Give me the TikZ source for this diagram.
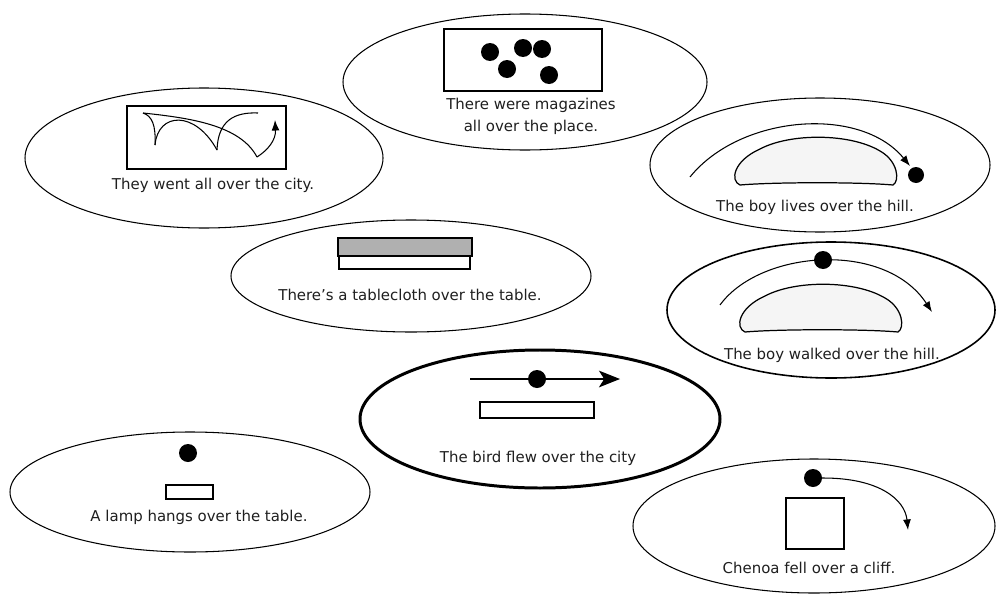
\documentclass[tikz,border=0pt]{standalone}
\usepackage{fontspec}
\setmainfont{DejaVu Sans}
\usetikzlibrary{arrows.meta}
\tikzset{
  oval/.style={draw=black,line width=0.6pt},
  lbl/.style={font=\fontsize{8.5pt}{12.5pt}\selectfont,text=black!88,inner sep=0pt,align=center},
  dotf/.style={fill=black},
  boxd/.style={draw=black,line width=0.7pt},
  curv/.style={draw=black,line width=0.6pt},
  sarrow/.style={-{Latex[length=6pt,width=4.5pt]}},
  hillshape/.pic={
    \draw[line width=0.7pt,fill=black!4] (-76,24) .. controls (-86,20) and (-83,0) .. (-56,-12)
      .. controls (-26,-28) and (34,-28) .. (64,-10)
      .. controls (82,0) and (84,20) .. (77,24)
      .. controls (44,21) and (-41,21) .. cycle;
  }
}
\begin{document}
\begin{tikzpicture}[x=0.02cm,y=-0.02cm]
\fill[white] (0,0) rectangle (997,595);
\useasboundingbox (0,0) rectangle (997,595);

% 1 magazines
\draw[oval] (525,82) ellipse [x radius=182, y radius=68];
\draw[boxd] (444,29) rectangle (602,91);
\foreach \p in {(490,52),(523,48),(542,49),(507,69),(549,75)}
  \fill[dotf] \p circle [radius=9];
\node[lbl] (tmag) at (531,116) {There were magazines\\all over the place.};

% 2 city
\draw[oval] (204,158) ellipse [x radius=179, y radius=70];
\draw[boxd] (127,106) rectangle (286,169);
\draw[curv] (143,113) .. controls (152,116) and (156,125) .. (155,145);
\draw[curv] (155,145) .. controls (158,112) and (195,110) .. (217,150);
\draw[curv] (217,150) .. controls (218,120) and (235,112) .. (258,113);
\draw[curv] (143,113) .. controls (190,118) and (240,125) .. (257,157);
\draw[curv,sarrow] (257,157) .. controls (268,150) and (276,140) .. (275,120);
\node[lbl] (tcity) at (213,185) {They went all over the city.};

% 3 boy lives
\draw[oval] (820,165) ellipse [x radius=170, y radius=67];
\pic at (816,161) {hillshape};
\draw[curv,sarrow] (690,177) .. controls (740,115) and (860,105) .. (910,166);
\fill[dotf] (916,175) circle [radius=8];
\node[lbl] (tlives) at (815,207) {The boy lives over the hill.};

% 4 tablecloth
\draw[oval] (411,276) ellipse [x radius=180, y radius=56];
\draw[boxd,fill=black!31] (338,238) rectangle (472,256);
\draw[boxd] (339,256) rectangle (470,269);
\node[lbl] (tcloth) at (410,295) {There's a tablecloth over the table.};

% 5 boy walked
\draw[draw=black,line width=0.9pt] (831,310) ellipse [x radius=164, y radius=68];
\pic at (821,308) {hillshape};
\draw[curv,sarrow] (720,305) .. controls (760,250) and (885,240) .. (932,312);
\fill[dotf] (823,260) circle [radius=9];
\node[lbl] (twalk) at (832,355) {The boy walked over the hill.};

% 6 bird
\draw[draw=black,line width=1.7pt] (540,419) ellipse [x radius=180, y radius=69];
\draw[line width=0.7pt,-{Stealth[length=12pt,width=9.5pt,inset=3pt]}] (470,379) -- (620,379);
\fill[dotf] (537,379) circle [radius=9];
\draw[boxd] (480,402) rectangle (594,418);
\node[lbl] (tbird) at (538,458) {The bird flew over the city};

% 7 lamp
\draw[oval] (190,492) ellipse [x radius=180, y radius=60];
\fill[dotf] (188,453) circle [radius=9];
\draw[boxd] (166,485) rectangle (213,499);
\node[lbl] (tlamp) at (199,517) {A lamp hangs over the table.};

% 8 Chenoa
\draw[oval] (814,526) ellipse [x radius=181, y radius=67];
\fill[dotf] (813,478) circle [radius=9];
\draw[curv,sarrow] (813,478) -- (823,478) .. controls (880,478) and (905,500) .. (908,530);
\draw[boxd] (786,498) rectangle (844,549);
\node[lbl] (tchen) at (809,568) {Chenoa fell over a cliff.};
\end{tikzpicture}
\end{document}
